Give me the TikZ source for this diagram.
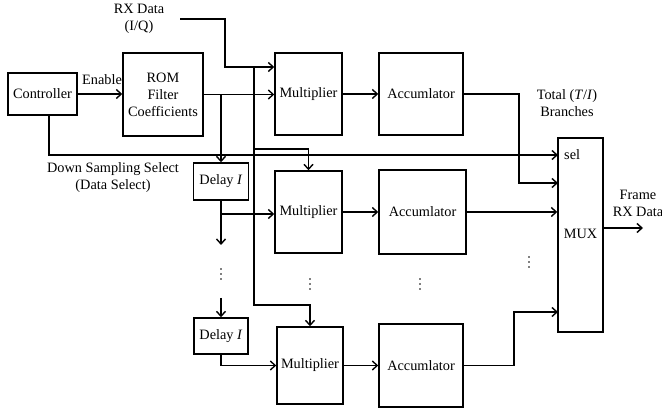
\documentclass[tikz,border=0pt]{standalone}
\usepackage{fontspec}
\setmainfont{Liberation Serif}
\usetikzlibrary{arrows.meta,calc}
\begin{document}
\begin{tikzpicture}[x=1pt,y=-1pt,
  every node/.style={font=\fontsize{14.3}{17}\selectfont,inner sep=0pt},
  blk/.style={draw,line width=1.4pt,align=center},
  lbl/.style={align=center},
  wire/.style={line width=1.4pt},
  arr/.style={wire,-{Straight Barb[length=5pt,width=9pt,line width=1.4pt]}},
  vdot/.style={fill=black,circle,minimum size=2pt}]
\useasboundingbox (0,0) rectangle (662,414);
% blocks
\node[blk,minimum width=69pt,minimum height=42pt] (ctrl) at (42.5,94) {Controller};
\node[blk,minimum width=80pt,minimum height=83pt] (rom) at (163,94.5) {ROM\\Filter\\Coefficients};
\node[blk,minimum width=67pt,minimum height=82pt] (mult1) at (308.5,94) {Multiplier};
\node[blk,minimum width=84pt,minimum height=82pt] (acc1) at (421,94) {Accumlator};
\node[blk,minimum width=67pt,minimum height=82pt] (mult2) at (308.5,212) {Multiplier};
\node[blk,minimum width=87pt,minimum height=84pt] (acc2) at (422.5,212) {Accumlator};
\node[blk,minimum width=66pt,minimum height=77pt] (mult3) at (310,365.5) {Multiplier};
\node[blk,minimum width=84pt,minimum height=83pt] (acc3) at (421,365.5) {Accumlator};
\node[blk,minimum width=55pt,minimum height=37pt] (delay1) at (221,181.5) {Delay \textit{I}};
\node[blk,minimum width=54pt,minimum height=36pt] (delay2) at (221,336) {Delay \textit{I}};
\node[draw,line width=1.4pt,minimum width=45pt,minimum height=194pt] (mux) at (580.5,235) {};
\node (muxt) at (580.5,234) {MUX};
\node[anchor=west] (selt) at (564,155) {sel};
% labels
\node[lbl] (rxlbl) at (139,19) {RX Data\\(I/Q)};
\node (enlbl) at (102,80) {Enable};
\node[lbl] (dslbl) at (113,178) {Down Sampling Select\\(Data Select)};
\node[lbl] (totlbl) at (567,103) {Total (\textit{T}/\textit{I})\\Branches};
\node[lbl] (frlbl) at (638,203) {Frame\\RX Data};
% vertical ellipses
\foreach \n/\px/\py in {e1/221/274, e2/310/284, e3/420/284, e4/529/262}{
  \node[vdot,inner sep=0pt,minimum size=1.8pt] (\n a) at (\px,\py-5) {};
  \node[vdot,inner sep=0pt,minimum size=1.8pt] (\n b) at (\px,\py) {};
  \node[vdot,inner sep=0pt,minimum size=1.8pt] (\n c) at (\px,\py+5) {};
}
% coordinates
\coordinate (rxs) at (180,19);
\coordinate (rxk) at (225,67);
\coordinate (bt) at (254,67);
\coordinate (bb) at (254,305);
\coordinate (b2) at (254,149);
\coordinate (r1) at (221,94.5);
\coordinate (d1) at (221,214);
\coordinate (d1e) at (221,245);
\coordinate (d2s) at (221,298);
\coordinate (cs) at (49,115);
\coordinate (sel) at (558,155);
\coordinate (a1k) at (519,94);
\coordinate (m1) at (558,183);
\coordinate (a3k) at (514,365.5);
\coordinate (m3) at (558,312);
\coordinate (mo) at (603,228);
\coordinate (moe) at (643,228);
% connectors
\draw[arr] (ctrl.east) -- (rom.west |- ctrl.east);
\draw[arr] (rxs) -| (rxk) -- (rxk -| mult1.west);
\draw[arr] (rom.east) -- (rom.east -| mult1.west);
\draw[arr] (r1) -- (delay1.north);
\draw[arr] (bt) -- (bb) -| (mult3.north);
\draw[arr] (b2) -| (mult2.north);
\draw[arr] (delay1.south) -- (d1e);
\draw[arr] (d1) -- (d1 -| mult2.west);
\draw[arr] (d2s) -- (delay2.north);
\draw[arr] (delay2.south) |- (mult3.west);
\draw[arr] (mult1) -- (acc1);
\draw[arr] (mult2) -- (acc2);
\draw[arr] (mult3) -- (acc3);
\draw[arr] (cs) |- (sel);
\draw[arr] (acc1.east) -- (a1k) |- (m1);
\draw[arr] (acc2.east) -- (acc2.east -| mux.west);
\draw[arr] (acc3.east) -- (a3k) |- (m3);
\draw[arr] (mo) -- (moe);
\end{tikzpicture}
\end{document}
